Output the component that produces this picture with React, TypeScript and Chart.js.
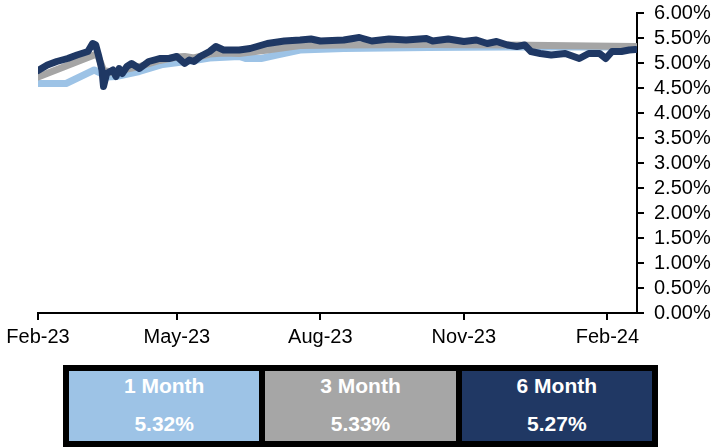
import React, { useEffect, useRef } from "react";
import { Chart, registerables } from "chart.js";

Chart.register(...registerables);

// x values are days since 1 Feb 2023
const tickDays = [0, 89, 181, 273, 365];
const tickLabels = ["Feb-23", "May-23", "Aug-23", "Nov-23", "Feb-24"];
const yTicks = [0, 0.5, 1, 1.5, 2, 2.5, 3, 3.5, 4, 4.5, 5, 5.5, 6];

const oneMonthDays = [0, 18, 36, 40, 44, 50, 65, 80, 100, 110, 129, 133, 143, 153, 168, 196, 250, 300, 383];
const oneMonthValues = [4.59, 4.59, 4.86, 4.8, 4.72, 4.73, 4.83, 4.97, 5.05, 5.1, 5.13, 5.09, 5.09, 5.16, 5.26, 5.29, 5.31, 5.32, 5.32];

const threeMonthDays = [0, 36, 38, 40, 42, 50, 57, 65, 78, 89, 94, 100, 110, 119, 129, 147, 168, 196, 250, 300, 383];
const threeMonthValues = [4.72, 5.16, 5.17, 5.02, 4.85, 4.8, 4.88, 4.93, 5.05, 5.12, 5.13, 5.1, 5.18, 5.2, 5.19, 5.26, 5.35, 5.36, 5.37, 5.36, 5.33];

const sixMonthDays = [0, 6, 12, 19, 25, 32, 35, 37, 39, 41, 42, 44, 48, 50, 52, 54, 57, 60, 65, 71, 78, 84, 89, 94, 97, 100, 104, 110, 114, 119, 129, 136, 147, 158, 168, 175, 181, 196, 206, 214, 225, 236, 249, 253, 263, 273, 281, 288, 294, 301, 307, 312, 316, 322, 329, 338, 347, 353, 360, 364, 368, 374, 379, 383];
const sixMonthValues = [4.85, 4.96, 5.03, 5.09, 5.16, 5.23, 5.39, 5.36, 5.13, 4.86, 4.53, 4.79, 4.86, 4.73, 4.89, 4.79, 4.93, 4.99, 4.89, 5.03, 5.09, 5.09, 5.13, 4.99, 5.06, 5.03, 5.13, 5.23, 5.33, 5.26, 5.26, 5.29, 5.39, 5.44, 5.46, 5.48, 5.44, 5.46, 5.51, 5.44, 5.48, 5.46, 5.49, 5.44, 5.48, 5.43, 5.46, 5.39, 5.43, 5.36, 5.33, 5.36, 5.23, 5.19, 5.16, 5.19, 5.09, 5.19, 5.19, 5.09, 5.23, 5.23, 5.26, 5.27];

const seriesNames = ["1 Month", "3 Month", "6 Month"];
const seriesColors = ["#9DC3E6", "#A5A5A5", "#1F3864"];
const boxColors = ["#9DC3E6", "#A6A6A6", "#203864"];
const latestValues = [oneMonthValues[oneMonthValues.length - 1], threeMonthValues[threeMonthValues.length - 1], sixMonthValues[sixMonthValues.length - 1]];

const FONT = "'Liberation Sans', Arial, sans-serif";

function pts(xs: number[], ys: number[]) {
  return xs.map((x, i) => ({ x, y: ys[i] }));
}

export default function App() {
  const ref = useRef<HTMLCanvasElement | null>(null);
  useEffect(() => {
    if (!ref.current) return;
    const line = (label: string, data: any[], color: string) => ({
      label,
      data,
      borderColor: color,
      backgroundColor: color,
      borderWidth: 7,
      pointRadius: 0,
      tension: 0,
      borderJoinStyle: "round" as const,
      borderCapStyle: "round" as const,
      fill: false,
    });
    const chart = new Chart(ref.current, {
      type: "line",
      data: {
        datasets: [
          line(seriesNames[2], pts(sixMonthDays, sixMonthValues), seriesColors[2]),
          line(seriesNames[1], pts(threeMonthDays, threeMonthValues), seriesColors[1]),
          line(seriesNames[0], pts(oneMonthDays, oneMonthValues), seriesColors[0]),
        ],
      },
      options: {
        animation: false,
        responsive: false,
        maintainAspectRatio: false,
        layout: { padding: { left: 38, top: 13, right: 0, bottom: 0 } },
        plugins: { legend: { display: false }, tooltip: { enabled: false } },
        scales: {
          x: {
            type: "linear",
            min: 0,
            max: 384,
            afterBuildTicks: (axis: any) => {
              axis.ticks = tickDays.map((v) => ({ value: v }));
            },
            afterFit: (axis: any) => {
              axis.height = 47;
              axis.paddingLeft = 0;
              axis.paddingRight = 0;
            },
            grid: {
              drawOnChartArea: false,
              drawTicks: true,
              tickLength: 7,
              color: "#000",
              lineWidth: 2,
            },
            border: { display: true, color: "#000", width: 2 },
            ticks: {
              autoSkip: false,
              maxRotation: 0,
              padding: 5,
              color: "#000",
              font: { family: FONT, size: 20 },
              callback: (v: any) => {
                const i = tickDays.indexOf(Number(v));
                return i >= 0 ? tickLabels[i] : "";
              },
            },
          },
          y: {
            position: "right",
            min: 0,
            max: 6,
            afterBuildTicks: (axis: any) => {
              axis.ticks = yTicks.map((v) => ({ value: v }));
            },
            afterFit: (axis: any) => {
              axis.width = 80;
              axis.paddingTop = 0;
              axis.paddingBottom = 0;
            },
            grid: {
              drawOnChartArea: false,
              drawTicks: true,
              tickLength: 7,
              color: "#000",
              lineWidth: 2,
            },
            border: { display: true, color: "#000", width: 2 },
            ticks: {
              autoSkip: false,
              padding: 10,
              color: "#000",
              font: { family: FONT, size: 20 },
              callback: (v: any) => Number(v).toFixed(2) + "%",
            },
          },
        },
      },
    });
    return () => chart.destroy();
  }, []);

  return (
    <div style={{ position: "absolute", left: 0, top: 0, width: 717, height: 447, background: "#fff", overflow: "hidden" }}>
      <canvas ref={ref} width={717} height={360} style={{ position: "absolute", left: 0, top: 0, width: 717, height: 360 }} />
      <div
        style={{
          position: "absolute",
          left: 63,
          top: 365,
          width: 595,
          height: 82,
          boxSizing: "border-box",
          background: "#000",
          padding: 6,
          display: "flex",
          gap: 6,
        }}
      >
        {seriesNames.map((name, i) => (
          <div
            key={name}
            style={{
              flex: 1,
              position: "relative",
              background: boxColors[i],
              color: "#fff",
              fontFamily: FONT,
              fontWeight: "bold",
              fontSize: 21,
              textAlign: "center",
            }}
          >
            <div style={{ position: "absolute", left: 0, right: 0, top: 4, lineHeight: "22px" }}>{name}</div>
            <div style={{ position: "absolute", left: 0, right: 0, top: 42, lineHeight: "22px" }}>{latestValues[i].toFixed(2) + "%"}</div>
          </div>
        ))}
      </div>
    </div>
  );
}
